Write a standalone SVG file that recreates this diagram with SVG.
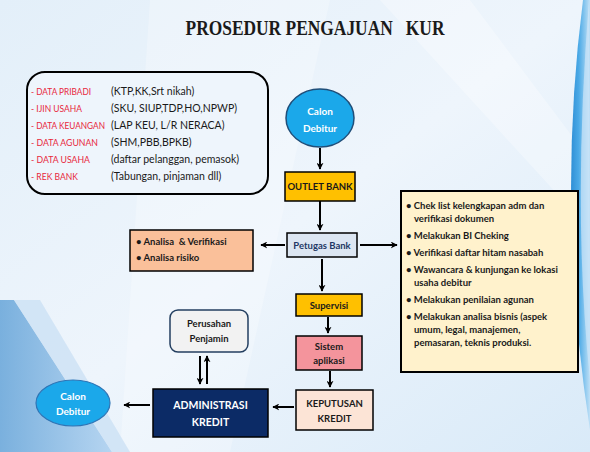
<svg xmlns="http://www.w3.org/2000/svg" width="590" height="452" viewBox="0 0 590 452">
<defs>
<linearGradient id="bg" x1="0" y1="0" x2="1" y2="1">
<stop offset="0" stop-color="#e3eff9"/>
<stop offset="0.5" stop-color="#eef5fc"/>
<stop offset="1" stop-color="#d9eaf8"/>
</linearGradient>
<linearGradient id="arc" x1="0" y1="0" x2="1" y2="0">
<stop offset="0" stop-color="#2f8fd6"/>
<stop offset="0.4" stop-color="#4aa9e6"/>
<stop offset="1" stop-color="#bfe0f6"/>
</linearGradient>
<linearGradient id="bl" x1="0" y1="0" x2="1" y2="0">
<stop offset="0" stop-color="#5d9fd6"/>
<stop offset="1" stop-color="#a8cdee"/>
</linearGradient>
<marker id="ah" viewBox="0 0 10 10" refX="9" refY="5" markerWidth="7" markerHeight="7" markerUnits="userSpaceOnUse" orient="auto">
<path d="M0,0 L10,5 L0,10 L3,5 Z" fill="#000"/>
</marker>
<style>
.t{font-family:Lato,"Open Sans","Liberation Sans",sans-serif;}
.lst{font-size:10.5px;fill:#1a1a1a;}
.red{fill:#e8283c;font-size:9.3px;}
.b{font-weight:bold;}
.bx{stroke:#000;stroke-width:1.5;}
.con{stroke:#000;stroke-width:2;fill:none;marker-end:url(#ah);}
.sm{font-size:9.5px;font-weight:bold;fill:#1a1a1a;}
</style>
</defs>
<rect width="590" height="452" fill="url(#bg)"/>
<path d="M150,0 L330,0 L230,452 L120,452 Z" fill="#ffffff" opacity="0.25"/>
<path d="M380,0 L470,0 L590,160 L590,230 Z" fill="#ffffff" opacity="0.3"/>
<path d="M0,300 L14,300 L112,452 L0,452 Z" fill="url(#bl)" opacity="0.8"/>
<path d="M14,300 L40,300 L130,452 L112,452 Z" fill="#c7def3" opacity="0.7"/>
<path d="M583,0 Q556,210 590,430 L590,0 Z" fill="url(#arc)"/>
<path d="M589,0 Q572,210 590,380 Z" fill="#cfe6f8" opacity="0.7"/>

<text x="315" y="35" text-anchor="middle" font-family="'Liberation Serif','DejaVu Serif',serif" font-weight="bold" font-size="22" fill="#1a1a1a" textLength="259" lengthAdjust="spacingAndGlyphs" xml:space="preserve">PROSEDUR PENGAJUAN   KUR</text>

<g id="connectors">
<line class="con" x1="320" y1="148" x2="320" y2="169"/>
<line class="con" x1="320" y1="201" x2="320" y2="230"/>
<line class="con" x1="285" y1="245" x2="261" y2="245"/>
<line class="con" x1="360" y1="245" x2="397" y2="245"/>
<line class="con" x1="322" y1="259" x2="322" y2="291"/>
<line class="con" x1="328" y1="317" x2="328" y2="333"/>
<line class="con" x1="330" y1="371" x2="330" y2="387"/>
<line class="con" x1="294" y1="407" x2="273" y2="407"/>
<line class="con" x1="150" y1="405" x2="124" y2="405"/>
<line class="con" x1="200" y1="356" x2="200" y2="384"/>
<line class="con" x1="207" y1="384" x2="207" y2="356"/>
</g>

<g id="syarat">
<rect x="27" y="72" width="241" height="122" rx="18" fill="#eef5fc" stroke="#000" stroke-width="2"/>
<g class="t lst">
<text class="red" x="31" y="95" textLength="60" lengthAdjust="spacingAndGlyphs">- DATA PRIBADI</text>
<text x="111" y="95">(KTP,KK,Srt nikah)</text>
<text class="red" x="31" y="112" textLength="51" lengthAdjust="spacingAndGlyphs">- IJIN USAHA</text>
<text x="111" y="112">(SKU, SIUP,TDP,HO,NPWP)</text>
<text class="red" x="31" y="129" textLength="74" lengthAdjust="spacingAndGlyphs">- DATA KEUANGAN</text>
<text x="111" y="129">(LAP KEU, L/R NERACA)</text>
<text class="red" x="31" y="146" textLength="67" lengthAdjust="spacingAndGlyphs">- DATA AGUNAN</text>
<text x="111" y="146">(SHM,PBB,BPKB)</text>
<text class="red" x="31" y="163" textLength="59" lengthAdjust="spacingAndGlyphs">- DATA USAHA</text>
<text x="111" y="163">(daftar pelanggan, pemasok)</text>
<text class="red" x="31" y="180" textLength="47" lengthAdjust="spacingAndGlyphs">- REK BANK</text>
<text x="111" y="180">(Tabungan, pinjaman dll)</text>
</g>
</g>

<g id="calon1">
<ellipse cx="320" cy="118" rx="34" ry="29" fill="#1ba8ea" stroke="#1f4e79" stroke-width="1.5"/>
<text class="t b" x="320" y="115" font-size="10" fill="#fff" text-anchor="middle">Calon</text>
<text class="t b" x="320" y="132" font-size="10" fill="#fff" text-anchor="middle">Debitur</text>
</g>

<g id="outlet">
<rect class="bx" x="285" y="172" width="70" height="29" fill="#ffc000"/>
<text class="t sm" x="320" y="190" text-anchor="middle">OUTLET BANK</text>
</g>

<g id="petugas">
<rect class="bx" x="287" y="233" width="70" height="24" fill="#dce6f2" stroke="#243f60"/>
<text class="t" x="322" y="249" font-size="9.5" font-weight="bold" fill="#1f3864" text-anchor="middle">Petugas Bank</text>
</g>

<g id="analisa">
<rect class="bx" x="130" y="230" width="123" height="41" fill="#fac09a"/>
<text class="t sm" x="136" y="245" xml:space="preserve">• Analisa  &amp; Verifikasi</text>
<text class="t sm" x="136" y="261">• Analisa risiko</text>
</g>

<g id="checklist">
<rect x="401" y="191" width="177" height="181" fill="#fff2cc" stroke="#000" stroke-width="2"/>
<g class="t sm">
<text x="406" y="209">• Chek list kelengkapan adm dan</text>
<text x="414" y="222">verifikasi dokumen</text>
<text x="406" y="239">• Melakukan BI Cheking</text>
<text x="406" y="256">• Verifikasi daftar hitam nasabah</text>
<text x="406" y="273">• Wawancara &amp; kunjungan ke lokasi</text>
<text x="414" y="286">usaha debitur</text>
<text x="406" y="303">• Melakukan penilaian agunan</text>
<text x="406" y="320">• Melakukan analisa bisnis (aspek</text>
<text x="414" y="333">umum, legal, manajemen,</text>
<text x="414" y="346">pemasaran, teknis produksi.</text>
</g>
</g>

<g id="supervisi">
<rect class="bx" x="296" y="294" width="66" height="22" fill="#ffc000"/>
<text class="t sm" x="329" y="309" text-anchor="middle" fill="#3a2a00">Supervisi</text>
</g>

<g id="sistem">
<rect class="bx" x="296" y="336" width="66" height="34" fill="#f4949c"/>
<text class="t sm" x="329" y="350" text-anchor="middle" fill="#5a1a00">Sistem</text>
<text class="t sm" x="329" y="364" text-anchor="middle" fill="#5a1a00">aplikasi</text>
</g>

<g id="keputusan">
<rect class="bx" x="296" y="390" width="77" height="40" fill="#fce4d6"/>
<text class="t sm" x="334.5" y="407" text-anchor="middle" fill="#2a2a2a">KEPUTUSAN</text>
<text class="t sm" x="334.5" y="422" text-anchor="middle" fill="#2a2a2a">KREDIT</text>
</g>

<g id="admin">
<rect class="bx" x="153" y="389" width="115" height="48" fill="#0c2b66"/>
<text class="t b" x="210.5" y="409" font-size="10.5" fill="#fff" text-anchor="middle">ADMINISTRASI</text>
<text class="t b" x="210.5" y="426" font-size="10.5" fill="#fff" text-anchor="middle">KREDIT</text>
</g>

<g id="penjamin">
<rect x="170" y="310" width="78" height="42" rx="8" fill="#f2f2f2" stroke="#243f60" stroke-width="1.5"/>
<text class="t sm" x="209" y="327" text-anchor="middle" fill="#333">Perusahan</text>
<text class="t sm" x="209" y="342" text-anchor="middle" fill="#333">Penjamin</text>
</g>

<g id="calon2">
<ellipse cx="73" cy="403" rx="37" ry="23" fill="#1ba8ea" stroke="#2e75b6" stroke-width="1.2"/>
<text class="t b" x="73" y="400" font-size="10" fill="#fff" text-anchor="middle">Calon</text>
<text class="t b" x="73" y="415" font-size="10" fill="#fff" text-anchor="middle">Debitur</text>
</g>
</svg>
